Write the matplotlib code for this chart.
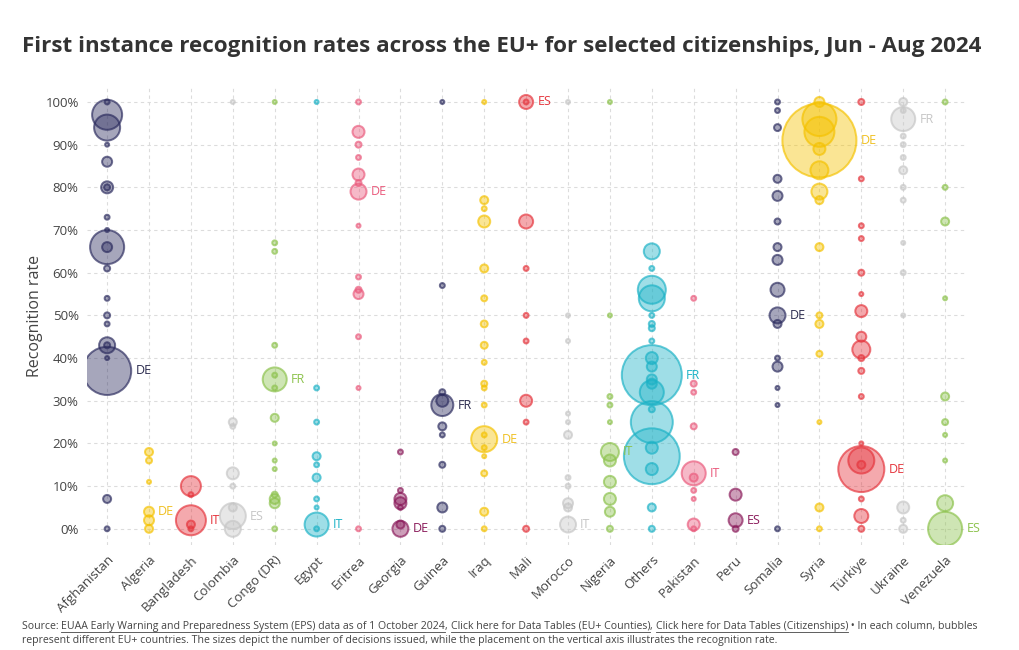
import numpy as np
import matplotlib.pyplot as plt
from matplotlib.colors import to_rgb

plt.rcParams['font.family'] = ['Open Sans', 'DejaVu Sans']

citizenships = ["Afghanistan", "Algeria", "Bangladesh", "Colombia", "Congo (DR)", "Egypt",
                "Eritrea", "Georgia", "Guinea", "Iraq", "Mali", "Morocco", "Nigeria",
                "Others", "Pakistan", "Peru", "Somalia", "Syria", "Türkiye", "Ukraine",
                "Venezuela"]

# recognition rate (%) and number of decisions for each EU+ country bubble
afg_rate = [100, 97, 94, 90, 86, 80, 80, 73, 70, 66, 66, 61, 54, 50, 48, 43, 43, 40, 37, 7, 0]
afg_dec = [60, 2250, 1690, 40, 250, 360, 90, 60, 40, 2900, 250, 90, 60, 90, 60, 640, 90, 40, 5800, 160, 60]
alg_rate = [18, 16, 11, 4, 2, 0]
alg_dec = [160, 90, 40, 250, 250, 160]
ban_rate = [10, 8, 2, 1, 0]
ban_dec = [1000, 60, 2250, 160, 60]
col_rate = [100, 25, 24, 13, 10, 5, 3, 0]
col_dec = [40, 160, 60, 360, 60, 160, 1690, 640]
cod_rate = [100, 67, 65, 43, 36, 35, 33, 26, 20, 16, 14, 8, 7, 6, 0]
cod_dec = [40, 60, 60, 60, 60, 1440, 60, 160, 40, 40, 40, 90, 250, 250, 60]
egy_rate = [100, 33, 25, 17, 15, 12, 7, 5, 1, 0]
egy_dec = [40, 60, 60, 160, 60, 160, 60, 40, 1440, 60]
eri_rate = [100, 93, 90, 87, 83, 81, 79, 71, 59, 56, 55, 45, 33, 0]
eri_dec = [60, 360, 90, 60, 360, 90, 640, 40, 60, 90, 250, 60, 40, 60]
geo_rate = [18, 9, 7, 6, 5, 1, 0]
geo_dec = [60, 60, 360, 360, 60, 160, 640]
gui_rate = [100, 57, 32, 30, 29, 24, 22, 15, 5, 0]
gui_dec = [40, 60, 90, 360, 1210, 160, 60, 90, 250, 90]
irq_rate = [100, 77, 75, 72, 61, 54, 48, 43, 39, 34, 33, 29, 22, 21, 19, 17, 13, 4, 0]
irq_dec = [40, 160, 60, 360, 160, 90, 120, 120, 60, 90, 60, 60, 60, 1690, 60, 40, 90, 160, 60]
mal_rate = [100, 100, 72, 61, 50, 44, 30, 25, 0]
mal_dec = [490, 60, 490, 60, 60, 60, 360, 60, 90]
mor_rate = [100, 50, 44, 27, 25, 22, 12, 10, 6, 5, 1]
mor_dec = [40, 40, 40, 40, 40, 160, 60, 60, 250, 160, 640]
nga_rate = [100, 50, 31, 29, 25, 18, 16, 11, 7, 4, 0]
nga_dec = [40, 40, 60, 60, 40, 810, 360, 360, 360, 250, 90]
oth_rate = [65, 61, 56, 54, 50, 48, 47, 44, 40, 38, 36, 35, 34, 32, 28, 25, 19, 17, 14, 5, 0]
oth_dec = [640, 60, 1960, 1690, 60, 90, 90, 60, 360, 250, 9000, 250, 250, 1440, 90, 4400, 360, 7800, 360, 160, 90]
pak_rate = [54, 34, 32, 24, 13, 12, 9, 7, 1, 0]
pak_dec = [60, 90, 60, 90, 1440, 160, 60, 40, 360, 60]
per_rate = [18, 8, 2, 0]
per_dec = [90, 360, 490, 90]
som_rate = [100, 98, 94, 82, 78, 72, 66, 63, 56, 50, 48, 40, 38, 33, 29, 0]
som_dec = [60, 60, 120, 160, 250, 90, 160, 250, 490, 640, 160, 60, 250, 40, 40, 60]
syr_rate = [100, 96, 93, 91, 89, 84, 79, 77, 66, 50, 48, 41, 25, 5, 0]
syr_dec = [250, 2900, 2250, 13700, 360, 810, 640, 160, 160, 90, 160, 90, 40, 160, 60]
tur_rate = [100, 82, 71, 68, 60, 55, 51, 45, 42, 40, 37, 31, 20, 16, 15, 14, 7, 3, 0]
tur_dec = [90, 60, 60, 60, 90, 40, 360, 250, 810, 90, 90, 60, 40, 1690, 160, 5300, 60, 490, 90]
ukr_rate = [100, 98, 96, 92, 90, 87, 84, 80, 77, 67, 60, 50, 5, 2, 0]
ukr_dec = [160, 60, 1440, 60, 60, 60, 160, 60, 60, 40, 60, 40, 360, 60, 160]
ven_rate = [100, 80, 72, 54, 31, 25, 22, 16, 6, 0]
ven_dec = [60, 60, 160, 40, 160, 90, 40, 40, 640, 2900]

all_rates = [afg_rate, alg_rate, ban_rate, col_rate, cod_rate, egy_rate, eri_rate, geo_rate,
             gui_rate, irq_rate, mal_rate, mor_rate, nga_rate, oth_rate, pak_rate, per_rate,
             som_rate, syr_rate, tur_rate, ukr_rate, ven_rate]
all_decs = [afg_dec, alg_dec, ban_dec, col_dec, cod_dec, egy_dec, eri_dec, geo_dec,
            gui_dec, irq_dec, mal_dec, mor_dec, nga_dec, oth_dec, pak_dec, per_dec,
            som_dec, syr_dec, tur_dec, ukr_dec, ven_dec]

# country code shown next to the largest bubble of each column
top_country = ["DE", "DE", "IT", "ES", "FR", "IT", "DE", "DE", "FR", "DE", "ES", "IT", "IT",
               "FR", "IT", "ES", "DE", "DE", "DE", "FR", "ES"]

palette = ["#2b2b5e", "#f5c200", "#e5343c", "#c6c6c6", "#8cc24c", "#1cb2c6", "#ea5a7c", "#8a1a5a"]
label_colors = ["#2b2b4e", "#f0c020", "#e5343c", "#c6c6c6", "#8cc24c", "#1cb2c6", "#ea5a7c", "#8a1a5a"]

fig = plt.figure(figsize=(10.2, 6.5), dpi=100)
ax = fig.add_axes([0.0853, 0.1615, 0.861, 0.7046])

px = 0.72  # points per pixel at dpi 100
for i, (rates, decs) in enumerate(zip(all_rates, all_decs)):
    col = to_rgb(palette[i % len(palette)])
    rates = np.array(rates, float)
    decs = np.array(decs, float)
    order = np.argsort(-decs)
    r_px = np.sqrt(decs / 10.0)
    sizes = (2 * r_px * px) ** 2
    ax.scatter(np.full(len(rates), i)[order], rates[order], s=sizes[order],
               color=(*col, 0.42), edgecolors=[(*col, 0.68)],
               linewidths=1.44, zorder=3)
    big = int(np.argmax(decs))
    ax.annotate(top_country[i], (i, rates[big]),
                xytext=(r_px[big] * px + 3, 0), textcoords='offset points',
                ha='left', va='center', fontsize=9,
                color=label_colors[i % len(label_colors)], zorder=4)

ax.set_xlim(-0.48, 20.48)
ax.set_ylim(-3.8, 103.5)
ax.set_xticks(range(len(citizenships)))
ax.set_xticklabels(citizenships, rotation=45, ha='right', rotation_mode='anchor',
                   fontsize=9.5, color='#444444')
ax.set_yticks(range(0, 101, 10))
ax.set_yticklabels([f"{v}%" for v in range(0, 101, 10)], fontsize=9.5, color='#444444')
ax.tick_params(length=0, pad=6)
ax.grid(True, color='#dcdcdc', linestyle=(0, (3, 3)), linewidth=0.8, zorder=0)
ax.set_axisbelow(True)
for s in ax.spines.values():
    s.set_visible(False)
ax.set_ylabel("Recognition rate", fontsize=11.5, color='#444444', labelpad=2)

fig.text(0.0216, 0.928, "First instance recognition rates across the EU+ for selected citizenships, Jun - Aug 2024",
         fontsize=16.1, fontweight='bold', color='#333333', va='center', ha='left')

# footer with underlined link texts
renderer = fig.canvas.get_renderer()
pieces = [("Source: ", False),
          ("EUAA Early Warning and Preparedness System (EPS) data as of 1 October 2024", True),
          (", ", False), ("Click here for Data Tables (EU+ Counties)", True), (", ", False),
          ("Click here for Data Tables (Citizenships)", True),
          (" • In each column, bubbles", False)]
x0 = 22 / 1020
y1 = 1 - 629 / 650
xpos = x0
for txt, under in pieces:
    t = fig.text(xpos, y1, txt, fontsize=7.6, color='#444444', va='baseline', ha='left')
    bb = t.get_window_extent(renderer)
    if under:
        fig.add_artist(plt.Line2D([bb.x0 / 1020, bb.x1 / 1020], [y1 - 0.004, y1 - 0.004],
                                  color='#444444', linewidth=0.6))
    xpos = bb.x1 / 1020
fig.text(x0, 1 - 643 / 650, "represent different EU+ countries. The sizes depict the number of decisions issued, "
         "while the placement on the vertical axis illustrates the recognition rate.",
         fontsize=7.6, color='#444444', va='baseline', ha='left')

fig.savefig("out.png", dpi=100)
